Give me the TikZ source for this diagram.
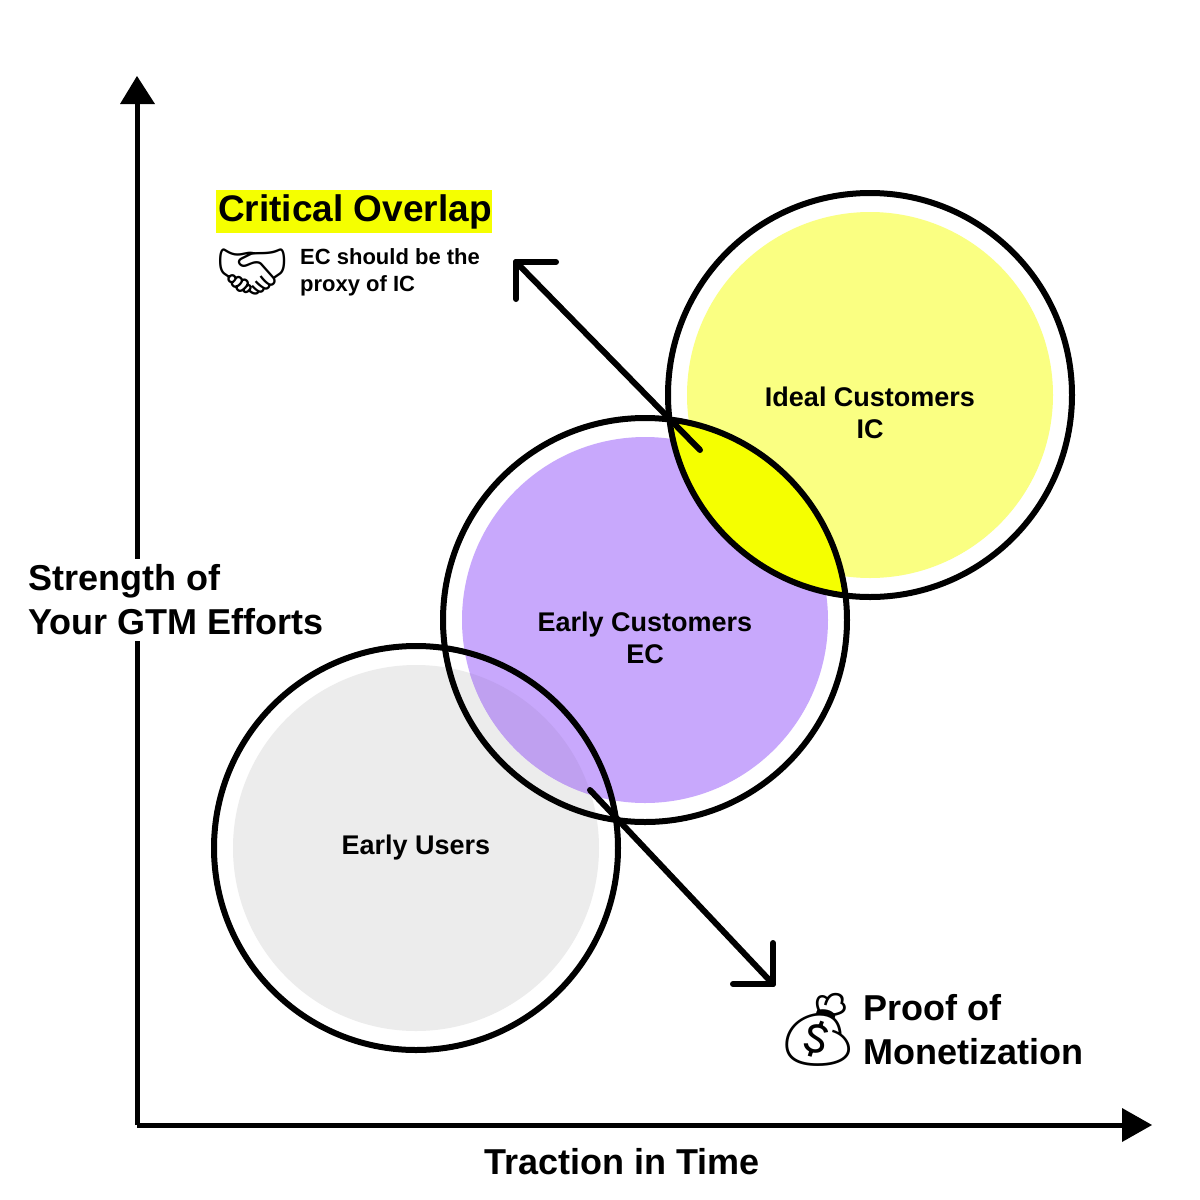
\documentclass[tikz,border=0pt]{standalone}
\usepackage{fontspec}
\setmainfont{Liberation Sans}
\newfontfamily\emo{Noto Emoji}
\begin{document}
\begin{tikzpicture}[x=1pt,y=-1pt,
  lab/.style={font=\bfseries\fontsize{27}{32}\selectfont,align=center,text=black},
  big/.style={font=\bfseries\fontsize{36}{44}\selectfont,align=left,text=black},
  ring/.style={draw=black,line width=6pt},
  arr/.style={line width=6pt,line cap=round,line join=round}]
\useasboundingbox[fill=white] (0,0) rectangle (1200,1200);
% axes
\coordinate (O) at (137,1125);
\coordinate (Ytop) at (137,100);
\coordinate (Xend) at (1125,1125);
\draw[line width=5pt] (O) -- (Ytop);
\draw[line width=5pt] (O) -- (Xend);
\fill (120,104) -- (137,76) -- (155,104) -- cycle;
\fill (1122,1108) -- (1152,1125) -- (1122,1142) -- cycle;
% fills
\fill[gray!15] (416,848) circle (183);
\fill[color={rgb,255:red,200;green,168;blue,252}] (645,620) circle (183);
\begin{scope}
\clip (416,848) circle (183);
\fill[color={rgb,255:red,191;green,160;blue,240}] (645,620) circle (183);
\end{scope}
\fill[color={rgb,255:red,250;green,255;blue,130}] (870,395) circle (183);
\begin{scope}
\clip (645,620) circle (202);
\fill[color={rgb,255:red,245;green,255;blue,0}] (870,395) circle (202);
\end{scope}
% rings
\draw[ring] (416,848) circle (202);
\draw[ring] (645,620) circle (202);
\draw[ring] (870,395) circle (202);
% labels
\node[lab] (eu) at (416,848) {Early Users};
\node[lab] (ec) at (645,638) {Early Customers\\EC};
\node[lab] (ic) at (870,413) {Ideal Customers\\IC};
% arrows
\coordinate (a1s) at (700,450);
\coordinate (a1e) at (516,262);
\draw[arr] (a1s) -- (a1e);
\draw[arr] (516,299) -- (a1e) -- (556,262);
\coordinate (a2s) at (590,790);
\coordinate (a2e) at (773,984);
\draw[arr] (a2s) -- (a2e);
\draw[arr] (773,943) -- (a2e) -- (733,984);
% texts
\fill[color={rgb,255:red,245;green,255;blue,0}] (216,190) rectangle (492,233);
\node[anchor=west,font=\bfseries\fontsize{37}{40}\selectfont,inner sep=0pt] (co) at (218,212) {Critical Overlap};
\node[font=\emo\fontsize{60}{60}\selectfont,inner sep=0pt] (hs) at (253,272) {🤝};
\node[anchor=west,align=left,inner sep=0pt,font=\bfseries\fontsize{22}{27}\selectfont] (ecp) at (300,272) {EC should be the\\proxy of IC};
\node[big,anchor=west,fill=white,inner sep=6pt] (st) at (22,600) {Strength of\\Your GTM Efforts};
\node[font=\emo\fontsize{72}{72}\selectfont,inner sep=0pt] (mb) at (818,1030) {💰};
\node[big,anchor=west] (pm) at (860,1030) {Proof of\\Monetization};
\node[big] (tt) at (622,1162) {Traction in Time};
\end{tikzpicture}
\end{document}
